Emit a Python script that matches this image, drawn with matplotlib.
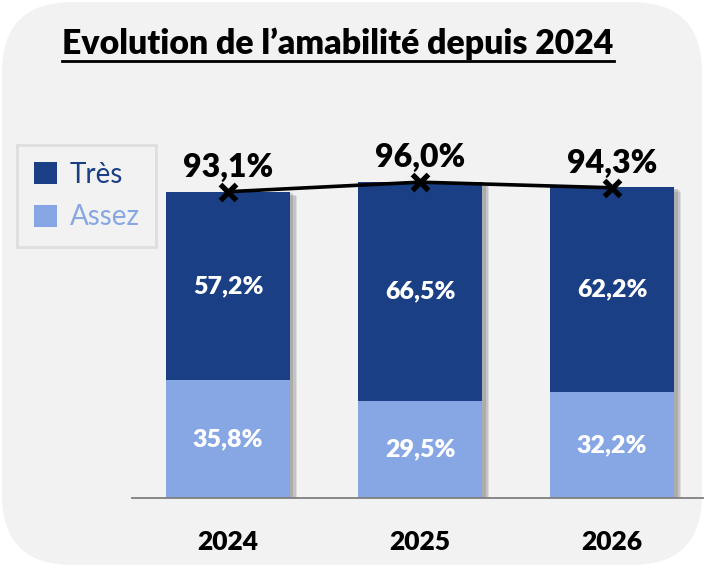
import matplotlib.pyplot as plt
import matplotlib.patheffects as pe
from matplotlib.patches import FancyBboxPatch

years = ["2024", "2025", "2026"]
tres = [57.2, 66.5, 62.2]
assez = [35.8, 29.5, 32.2]
totals = [93.1, 96.0, 94.3]

DARK = "#1b3f84"
LIGHT = "#86a7e4"

plt.rcParams["font.family"] = ["Lato", "DejaVu Sans"]

fig = plt.figure(figsize=(7.04, 5.68), dpi=100)
fig.patch.set_facecolor("white")

# rounded panel behind everything
bg = FancyBboxPatch((2 / 704, 3 / 568), 700 / 704, 563 / 568,
                    boxstyle="round,pad=0,rounding_size=0.1",
                    transform=fig.transFigure, facecolor="#f2f2f2",
                    edgecolor="none", mutation_aspect=704 / 568, zorder=-5)
fig.patches.append(bg)

ax = fig.add_axes([132 / 704, 70 / 568, 572 / 704, 329 / 568])
ax.set_facecolor("none")
ax.set_zorder(2)

x = range(len(years))
stack = [a + t for a, t in zip(assez, tres)]
# soft shadow behind the whole stack
for off, al in [((5, -3), 0.12), ((4, -2), 0.15), ((2.5, -1), 0.18)]:
    ax.bar(x, stack, width=0.646, color="none",
           path_effects=[pe.SimplePatchShadow(offset=off, shadow_rgbFace="#404040", alpha=al)],
           zorder=1)
b1 = ax.bar(x, assez, width=0.646, color=LIGHT, zorder=2)
b2 = ax.bar(x, tres, width=0.646, bottom=assez, color=DARK, zorder=2)

for i in x:
    ax.text(i, assez[i] / 2, f"{assez[i]:.1f}%".replace(".", ","), color="white",
            ha="center", va="center", fontsize=18, fontweight="heavy", zorder=3)
    ax.text(i, assez[i] + tres[i] / 2, f"{tres[i]:.1f}%".replace(".", ","), color="white",
            ha="center", va="center", fontsize=18, fontweight="heavy", zorder=3)
    ax.text(i, totals[i] + 3.0, f"{totals[i]:.1f}%".replace(".", ","), color="black",
            ha="center", va="bottom", fontsize=23, fontweight="heavy", zorder=5)

ax.plot(list(x), totals, color="black", lw=2.6, marker="x", markersize=12,
        markeredgewidth=3.8, zorder=4)

ax.set_xlim(-0.5, 2.479)
ax.set_ylim(0, 100)
ax.set_yticks([])
ax.set_xticks(list(x))
ax.set_xticklabels(years, fontsize=19, fontweight="heavy")
ax.tick_params(axis="x", length=0, pad=23)
for s in ["top", "right", "left"]:
    ax.spines[s].set_visible(False)
ax.spines["bottom"].set_color("#7f7f7f")
ax.spines["bottom"].set_linewidth(1.3)

# title with underline
title = fig.text(338 / 704, 1 - 44 / 568, "Evolution de l\u2019amabilit\u00e9 depuis 2024",
                 ha="center", va="center", fontsize=24.3, fontweight="heavy")
fig.canvas.draw()
bb = title.get_window_extent().transformed(fig.transFigure.inverted())
fig.add_artist(plt.Line2D([bb.x0, bb.x1], [1 - 61 / 568] * 2, color="black", lw=2,
                          transform=fig.transFigure))

# legend box
leg = ax.legend([b2, b1], ["Tr\u00e8s", "Assez"], loc="upper left",
                bbox_to_anchor=(17 / 704, 1 - 145 / 568), bbox_transform=fig.transFigure,
                fontsize=20, frameon=True, fancybox=False, handlelength=0.85,
                handleheight=0.85, handletextpad=0.45, labelspacing=0.6,
                borderpad=0.6, borderaxespad=0)
leg.get_frame().set_edgecolor("#d9d9d9")
leg.get_frame().set_facecolor("#f2f2f2")
leg.get_frame().set_linewidth(2)
for t, c in zip(leg.get_texts(), [DARK, LIGHT]):
    t.set_color(c)

fig.savefig("out.png", dpi=100)
